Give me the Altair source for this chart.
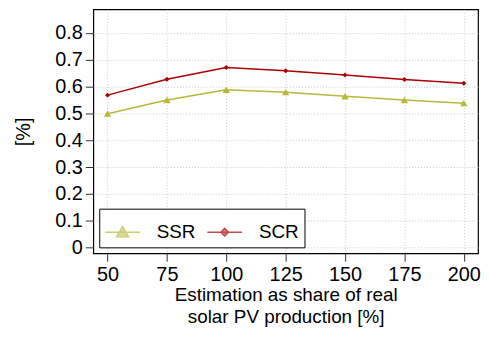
import altair as alt
import pandas as pd

shares = [50, 75, 100, 125, 150, 175, 200]
ssr = [0.499, 0.550, 0.588, 0.579, 0.564, 0.550, 0.538]
scr = [0.568, 0.627, 0.671, 0.659, 0.643, 0.626, 0.612]
series = ["SSR", "SCR"]
colors = ["#b8b83a", "#ad0000"]
y_ticks = [0, 0.1, 0.2, 0.3, 0.4, 0.5, 0.6, 0.7, 0.8]

rows = []
for s, a, b in zip(shares, ssr, scr):
    rows.append({"share": s, "metric": "SSR", "value": a})
    rows.append({"share": s, "metric": "SCR", "value": b})
df = pd.DataFrame(rows)

FONT = "Liberation Sans"
FS = 20

x = alt.X("share:Q", scale=alt.Scale(domain=[44, 206], nice=False, zero=False),
          axis=alt.Axis(values=shares, title=["Estimation as share of real", "solar PV production [%]"],
                        titlePadding=2, titleLineHeight=22, titleFontSize=19))
y = alt.Y("value:Q", scale=alt.Scale(domain=[-0.021, 0.8875], nice=False, zero=False),
          axis=alt.Axis(values=y_ticks, format=".1~f", title="[%]", titlePadding=22))
cscale = alt.Scale(domain=series, range=colors)
color_nolegend = alt.Color("metric:N", scale=cscale, legend=None)

tri_path = "M-1,0H1M0,-0.32L0.34,0.26H-0.34Z"
dia_path = "M-1,0H1M0,-0.22L0.22,0L0,0.22L-0.22,0Z"

base = alt.Chart(df)

legend = alt.Legend(
    title=None, orient="bottom-left", direction="horizontal",
    symbolSize=1225, labelFontSize=19, labelFont=FONT, labelColor="black",
    symbolStrokeWidth=1.5,
    strokeColor="black", fillColor="white", padding=5, offset=6,
    labelOffset=16, columnPadding=8,
)

legend_layer = base.mark_point(filled=False, size=10).encode(
    x=x, y=y,
    fill=alt.Fill("metric:N", scale=alt.Scale(domain=series, range=colors), legend=legend),
    stroke=alt.Stroke("metric:N", scale=alt.Scale(domain=series, range=colors), legend=legend),
    shape=alt.Shape("metric:N", scale=alt.Scale(domain=series, range=[tri_path, dia_path]), legend=legend),
)

lines = base.mark_line(strokeWidth=1.5).encode(x=x, y=y, color=color_nolegend)

tri = base.transform_filter(alt.datum.metric == "SSR").mark_point(
    filled=True, opacity=1, shape="triangle-up", size=55).encode(x=x, y=y, color=color_nolegend)
dia = base.transform_filter(alt.datum.metric == "SCR").mark_point(
    filled=True, opacity=1, shape="diamond", size=25).encode(x=x, y=y, color=color_nolegend)

chart = alt.layer(legend_layer, lines, tri, dia).properties(
    width=388, height=246,
    autosize=alt.AutoSizeParams(type="none"),
    padding={"left": 86, "top": 0, "right": 4, "bottom": 75},
).configure_view(stroke="black", strokeWidth=1.2).configure_axis(
    labelFont=FONT, titleFont=FONT, labelFontSize=FS, titleFontSize=FS,
    labelColor="black", titleColor="black", titleFontWeight="normal",
    grid=True, gridColor="#c8c8c8", gridDash=[1, 2], gridWidth=1,
    domain=False, tickColor="#333", tickSize=8, labelPadding=3,
)

chart.save("out.html", embed_options={"renderer": "svg", "actions": False})
